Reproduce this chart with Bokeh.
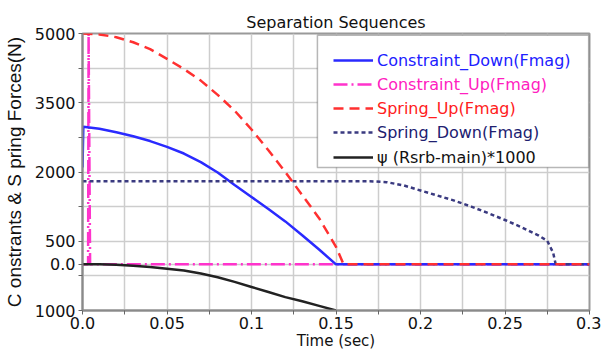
from bokeh.plotting import figure
from bokeh.models import Range1d, FixedTicker, Legend, LegendItem, BoxAnnotation
from bokeh.embed import file_html
from bokeh.resources import INLINE

# ---- data ----
t_cd = [0.0, 0.0005, 0.01, 0.02, 0.03, 0.04, 0.05, 0.06, 0.07, 0.08, 0.09, 0.10, 0.11, 0.12, 0.13, 0.14, 0.15, 0.30]
f_cd = [2100, 2980, 2935, 2860, 2775, 2670, 2545, 2400, 2215, 1990, 1720, 1460, 1200, 930, 630, 320, 0, 0]

t_cu = [0.0, 0.0033, 0.0036, 0.0045, 0.30]
f_cu = [0, 0, 5000, 0, 0]

t_su = [0.0, 0.01, 0.02, 0.03, 0.04, 0.05, 0.06, 0.07, 0.08, 0.09, 0.10, 0.11, 0.12, 0.13, 0.14, 0.15, 0.1545, 0.30]
f_su = [5000, 4980, 4920, 4810, 4660, 4450, 4230, 3980, 3670, 3330, 2920, 2470, 2000, 1500, 1000, 380, 0, 0]

t_sd = [0.0, 0.17, 0.18, 0.19, 0.20, 0.21, 0.22, 0.23, 0.24, 0.25, 0.26, 0.27, 0.275, 0.2785, 0.28, 0.30]
f_sd = [1800, 1800, 1780, 1710, 1600, 1490, 1380, 1250, 1110, 960, 800, 620, 510, 250, 0, 0]

t_psi = [0.0, 0.01, 0.02, 0.03, 0.04, 0.05, 0.06, 0.07, 0.08, 0.09, 0.10, 0.11, 0.12, 0.13, 0.14, 0.15]
f_psi = [0, 0, -10, -30, -60, -95, -135, -200, -280, -380, -490, -600, -710, -800, -900, -1000]

series_labels = ["Constraint_Down(Fmag)", "Constraint_Up(Fmag)", "Spring_Up(Fmag)",
                 "Spring_Down(Fmag)", "\u03c8 (Rsrb-main)*1000"]

x_ticks = [0, 0.025, 0.05, 0.075, 0.1, 0.125, 0.15, 0.175, 0.2, 0.225, 0.25, 0.275, 0.3]
x_labels = {0: "0.0", 0.025: "", 0.05: "0.05", 0.075: "", 0.1: "0.1", 0.125: "", 0.15: "0.15",
            0.175: "", 0.2: "0.2", 0.225: "", 0.25: "0.25", 0.275: "", 0.3: "0.3"}
y_ticks = [-1000, -250, 0, 500, 1250, 2000, 2750, 3500, 4250, 5000]
y_labels = {-1000: "1000", -250: "", 0: "0.0", 500: "500", 1250: "", 2000: "2000",
            2750: "", 3500: "3500", 4250: "", 5000: "5000"}

# ---- figure ----
p = figure(width=601, height=352, output_backend="svg", toolbar_location=None,
           x_range=Range1d(0, 0.3), y_range=Range1d(-1000, 5000),
           title="Separation Sequences", x_axis_label="Time (sec)",
           y_axis_label="C onstrants & S pring Forces(N)")
p.min_border_left = 82
p.min_border_right = 12
p.min_border_top = 33
p.min_border_bottom = 40
p.background_fill_color = "white"
p.border_fill_color = "white"
p.outline_line_color = "#9a9a9a"
p.outline_line_width = 2

p.title.align = "center"
p.title.text_font = "DejaVu Sans"
p.title.text_font_size = "16px"
p.title.text_font_style = "normal"
p.title.text_color = "#111111"
p.title.standoff = 4

p.xaxis.ticker = FixedTicker(ticks=x_ticks)
p.xaxis.major_label_overrides = x_labels
p.yaxis.ticker = FixedTicker(ticks=y_ticks)
p.yaxis.major_label_overrides = y_labels

for ax in (p.xaxis, p.yaxis):
    ax.axis_line_color = "#8a8a8a"
    ax.axis_line_width = 2
    ax.major_tick_line_color = "#666666"
    ax.major_tick_out = 4
    ax.major_tick_in = 0
    ax.minor_tick_line_color = None
    ax.major_label_text_font = "DejaVu Sans"
    ax.major_label_text_font_size = "16px"
    ax.major_label_text_color = "#111111"
    ax.axis_label_text_font_style = "normal"
    ax.axis_label_text_color = "#111111"

p.xaxis.major_label_standoff = 2
p.xaxis.axis_label_standoff = 0
p.xaxis.axis_label_text_font = "DejaVu Sans"
p.xaxis.axis_label_text_font_size = "15px"
p.yaxis.major_label_standoff = 3
p.yaxis.axis_label_standoff = 7
p.yaxis.axis_label_text_font = "Liberation Sans"
p.yaxis.axis_label_text_font_size = "19px"

for g in (p.xgrid, p.ygrid):
    g.grid_line_color = "#cdcdcd"
    g.grid_line_width = 1.5

# ---- lines ----
r_cu = p.line(t_cu, f_cu, line_color="#ff33cc", line_width=2.5, line_dash="14 4 2 4")
r_cd = p.line(t_cd, f_cd, line_color="#2a2aff", line_width=2.5)
r_sd = p.line(t_sd, f_sd, line_color="#3a3a80", line_width=2.5, line_dash="4 3")
r_su = p.line(t_su, f_su, line_color="#ff3030", line_width=2.5, line_dash="10 6")
r_psi = p.line(t_psi, f_psi, line_color="#222222", line_width=2.5)

# ---- legend ----
box = BoxAnnotation(left=0.139, right=0.2995, top=4960, bottom=2095,
                    fill_color="white", fill_alpha=1.0, line_color="#111111", line_width=1.5)
p.add_layout(box)

renderers = [r_cd, r_cu, r_su, r_sd, r_psi]
text_colors = ["#2020ff", "#ff20c0", "#ff2020", "#202070", "#111111"]
legend_y = [240, 216, 192, 168, 143]
for r, lab, col, ly in zip(renderers, series_labels, text_colors, legend_y):
    lg = Legend(items=[LegendItem(label=lab, renderers=[r])], location=(251, ly),
                border_line_alpha=0, background_fill_alpha=0, padding=0, margin=0,
                glyph_width=40, glyph_height=20, label_height=20, label_standoff=4,
                label_text_color=col, label_text_font="DejaVu Sans", label_text_font_size="16px")
    p.add_layout(lg)

open("out.html", "w").write(file_html(p, INLINE))
